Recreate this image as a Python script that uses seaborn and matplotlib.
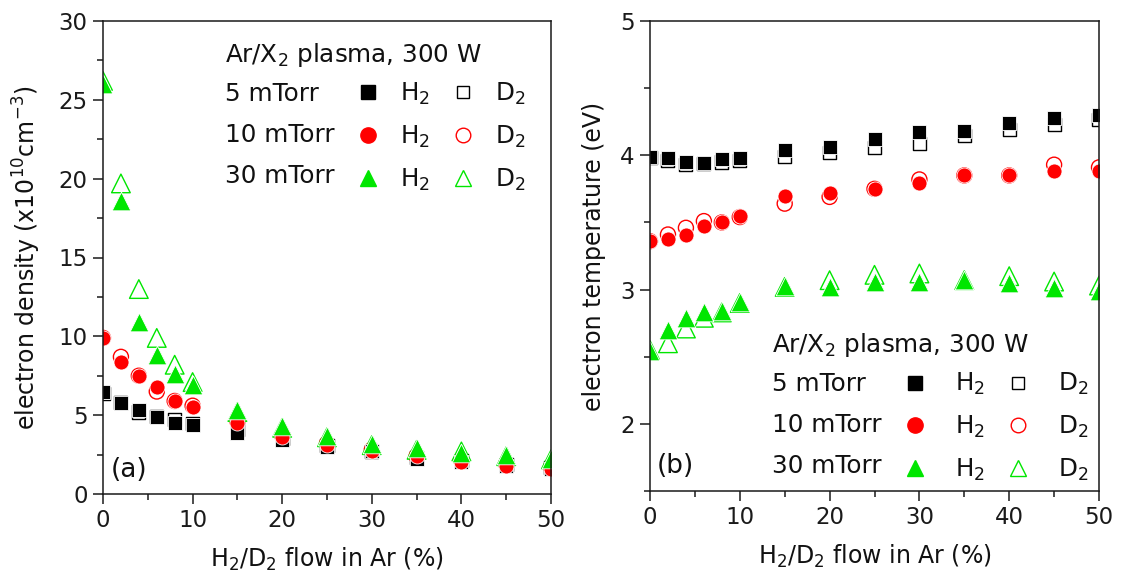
import matplotlib
matplotlib.use("Agg")
import matplotlib.pyplot as plt
from matplotlib.lines import Line2D
from matplotlib.ticker import MultipleLocator
import seaborn as sns

# ---------------- data ----------------
flow = [0, 2, 4, 6, 8, 10, 15, 20, 25, 30, 35, 40, 45, 50]

# electron density (x10^10 cm^-3)
ne_5_H2 = [6.5, 5.8, 5.3, 4.9, 4.5, 4.4, 3.9, 3.4, 3.0, 2.7, 2.2, 2.0, 1.8, 1.6]
ne_5_D2 = [6.4, 5.8, 5.2, 4.9, 4.7, 4.5, 4.1, 3.5, 3.1, 2.7, 2.3, 2.1, 1.9, 1.7]
ne_10_H2 = [9.9, 8.4, 7.5, 6.8, 5.9, 5.5, 4.5, 3.6, 3.1, 2.7, 2.4, 2.0, 1.8, 1.6]
ne_10_D2 = [9.9, 8.7, 7.5, 6.5, 5.9, 5.6, 4.6, 3.7, 3.2, 2.8, 2.4, 2.1, 1.9, 1.7]
ne_30_H2 = [26.0, 18.6, 10.9, 8.8, 7.6, 6.9, 5.3, 4.3, 3.7, 3.2, 2.9, 2.6, 2.5, 2.2]
ne_30_D2 = [26.2, 19.7, 13.0, 9.9, 8.2, 7.1, 5.2, 4.2, 3.6, 3.1, 2.8, 2.7, 2.4, 2.2]

# electron temperature (eV)
te_5_H2 = [3.99, 3.98, 3.95, 3.94, 3.97, 3.98, 4.04, 4.06, 4.12, 4.17, 4.18, 4.24, 4.28, 4.30]
te_5_D2 = [3.98, 3.96, 3.93, 3.94, 3.95, 3.96, 3.99, 4.02, 4.06, 4.09, 4.15, 4.19, 4.23, 4.27]
te_10_H2 = [3.36, 3.38, 3.41, 3.47, 3.50, 3.55, 3.70, 3.72, 3.75, 3.79, 3.85, 3.85, 3.88, 3.88]
te_10_D2 = [3.36, 3.41, 3.46, 3.51, 3.50, 3.54, 3.64, 3.69, 3.75, 3.82, 3.85, 3.85, 3.93, 3.91]
te_30_H2 = [2.54, 2.70, 2.79, 2.83, 2.84, 2.91, 3.03, 3.02, 3.06, 3.06, 3.07, 3.05, 3.01, 2.99]
te_30_D2 = [2.55, 2.60, 2.71, 2.79, 2.83, 2.90, 3.02, 3.07, 3.11, 3.12, 3.07, 3.10, 3.06, 3.03]

pressures = ["5 mTorr", "10 mTorr", "30 mTorr"]
gas_labels = ["H$_2$", "D$_2$"]
legend_title = "Ar/X$_2$ plasma, 300 W"
xlabel = "H$_2$/D$_2$ flow in Ar (%)"
ylabel_left = "electron density (x10$^{10}$cm$^{-3}$)"
ylabel_right = "electron temperature (eV)"

# ---------------- style ----------------
sns.set_theme(style="ticks")
plt.rcParams["font.family"] = ["DejaVu Sans"]
plt.rcParams.update({
    "mathtext.fontset": "dejavusans",
    "mathtext.default": "regular",
    "axes.edgecolor": "#1a1a1a",
    "axes.linewidth": 1.1,
    "text.color": "#111111",
    "axes.labelcolor": "#111111",
    "xtick.color": "#1a1a1a",
    "ytick.color": "#1a1a1a",
})

FS_TICK = 16.5
FS_LABEL = 17
FS_LEG = 17.7

colors = ["#000000", "#FF0000", "#00E600"]
markers = ["s", "o", "^"]
sizes = [88, 117, 180]
leg_ms = [9.5, 11, 11.5]

W, H = 1122, 586
fig = plt.figure(figsize=(W / 100, H / 100), dpi=100)
axL = fig.add_axes([103 / W, 1 - 494 / H, 448 / W, 473 / H])
axR = fig.add_axes([650 / W, 1 - 491 / H, 449 / W, 470 / H])

ne_H2 = [ne_5_H2, ne_10_H2, ne_30_H2]
ne_D2 = [ne_5_D2, ne_10_D2, ne_30_D2]
te_H2 = [te_5_H2, te_10_H2, te_30_H2]
te_D2 = [te_5_D2, te_10_D2, te_30_D2]


def draw(ax, H2s, D2s):
    for i in range(3):
        sns.scatterplot(x=flow, y=D2s[i], marker=markers[i], s=sizes[i],
                        color=colors[i], facecolor="none", edgecolor=colors[i],
                        linewidth=1.0, ax=ax, zorder=3)
        sns.scatterplot(x=flow, y=H2s[i], marker=markers[i], s=sizes[i],
                        color=colors[i], edgecolor="white", linewidth=0.6,
                        ax=ax, zorder=4)
    # markers at the frame edges are cut by the plot area, as in the original
    for coll in ax.collections:
        coll.set_clip_on(True)
        coll.set_clip_box(ax.bbox)
        coll.set_clip_path(ax.patch)


draw(axL, ne_H2, ne_D2)
draw(axR, te_H2, te_D2)

axL.set_xlim(0, 50)
axL.set_ylim(0, 30)
axR.set_xlim(0, 50)
axR.set_ylim(1.5, 5)

axL.xaxis.set_major_locator(MultipleLocator(10))
axL.xaxis.set_minor_locator(MultipleLocator(5))
axL.yaxis.set_major_locator(MultipleLocator(5))
axL.yaxis.set_minor_locator(MultipleLocator(2.5))
axR.xaxis.set_major_locator(MultipleLocator(10))
axR.xaxis.set_minor_locator(MultipleLocator(5))
axR.yaxis.set_major_locator(MultipleLocator(1))
axR.yaxis.set_minor_locator(MultipleLocator(0.5))

for ax in (axL, axR):
    ax.tick_params(which="major", direction="out", length=7, width=1.1,
                   labelsize=FS_TICK, pad=4, top=False, right=False)
    ax.tick_params(which="minor", direction="out", length=4, width=1.1,
                   top=False, right=False)
    for sp in ax.spines.values():
        sp.set_visible(True)
        sp.set_linewidth(1.1)
        sp.set_zorder(5)
    ax.set_xlabel(xlabel, fontsize=FS_LABEL, labelpad=10)

axL.set_ylabel(ylabel_left, fontsize=FS_LABEL, labelpad=11)
axR.set_ylabel(ylabel_right, fontsize=FS_LABEL, labelpad=10)


def make_legend(ax, tx, ty, lx, ly, pad, colsp):
    ax.text(tx, ty, legend_title, transform=ax.transAxes, fontsize=FS_LEG,
            va="baseline", ha="left")
    blank = [Line2D([], [], linestyle="none", marker=None) for _ in range(3)]
    filled = [Line2D([], [], linestyle="none", marker=markers[i], markersize=leg_ms[i],
                     markerfacecolor=colors[i], markeredgecolor=colors[i])
              for i in range(3)]
    opened = [Line2D([], [], linestyle="none", marker=markers[i], markersize=leg_ms[i] - 0.5,
                     markerfacecolor="none", markeredgecolor=colors[i], markeredgewidth=1.0)
              for i in range(3)]
    labels = pressures + [gas_labels[0]] * 3 + [gas_labels[1]] * 3
    ax.legend(handles=blank + filled + opened, labels=labels, ncol=3,
              loc="upper left", bbox_to_anchor=(lx, ly), frameon=False,
              fontsize=FS_LEG, handlelength=1.0, handletextpad=pad,
              columnspacing=colsp, labelspacing=0.68, borderpad=0,
              borderaxespad=0)


make_legend(axL, 0.272, 0.913, 0.1734, 0.873, 0.8, 0.85)
make_legend(axR, 0.272, 0.296, 0.155, 0.255, 1.13, 0.85)

axL.text(0.018, 0.036, "(a)", transform=axL.transAxes, fontsize=19, va="baseline")
axR.text(0.016, 0.038, "(b)", transform=axR.transAxes, fontsize=19, va="baseline")

fig.savefig("out.png", dpi=100)
